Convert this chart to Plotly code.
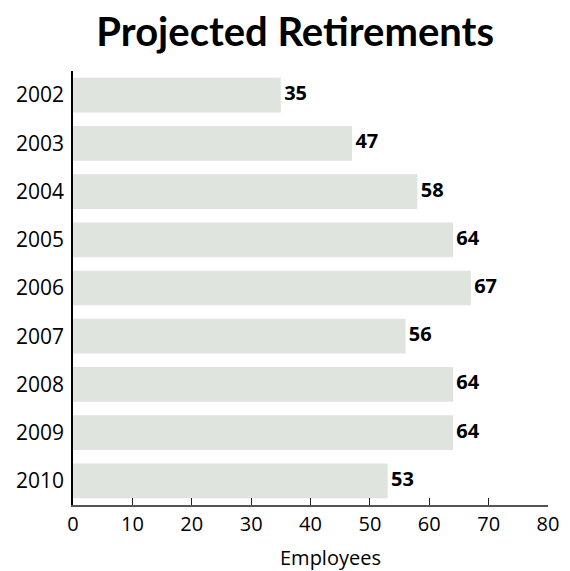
import plotly.graph_objects as go

years = ["2002", "2003", "2004", "2005", "2006", "2007", "2008", "2009", "2010"]
retirements = [35, 47, 58, 64, 67, 56, 64, 64, 53]
x_ticks = [0, 10, 20, 30, 40, 50, 60, 70, 80]

fig = go.Figure()
fig.add_trace(go.Bar(
    x=retirements, y=years, orientation="h",
    marker=dict(color="#dfe4df", line=dict(width=0)),
    hoverinfo="skip",
))
fig.add_trace(go.Scatter(
    x=retirements, y=years, mode="text",
    text=[f"&#8201;<b>{v}</b>" for v in retirements],
    textposition="middle right",
    textfont=dict(family="Open Sans", size=20, color="#000"),
    hoverinfo="skip", cliponaxis=False,
))

fig.add_annotation(
    text="Employees", xref="paper", yref="paper", x=0.543, y=-0.122,
    xanchor="center", yanchor="middle", showarrow=False,
    font=dict(family="Open Sans", size=20, color="#000"),
)

fig.update_layout(
    width=562, height=563,
    margin=dict(l=65, r=22, t=63, b=66),
    paper_bgcolor="white", plot_bgcolor="white",
    bargap=0.28,
    showlegend=False,
    title=dict(
        text="<b>Projected Retirements</b>",
        x=0.511, xanchor="center", y=0.958, yanchor="middle",
        font=dict(family="Lato", size=40, color="#000"),
    ),
    font=dict(family="Open Sans", color="#000"),
)
fig.update_xaxes(
    range=[0, 80], tickvals=x_ticks, ticks="inside", ticklen=7, tickwidth=1.2,
    tickcolor="#222", showline=True, linecolor="#555", linewidth=2,
    showgrid=False, zeroline=False, automargin=False,
    tickfont=dict(family="Open Sans", size=20, color="#000"),
)
fig.update_yaxes(
    type="category", categoryorder="array", categoryarray=years[::-1],
    range=[-0.5, len(years) - 0.5], showline=True, linecolor="#000", linewidth=1.5,
    layer="below traces", ticks="", showgrid=False, zeroline=False, automargin=False,
    tickfont=dict(family="Open Sans", size=21, color="#000"), ticklabelstandoff=3,
)

fig.write_html("out.html")
